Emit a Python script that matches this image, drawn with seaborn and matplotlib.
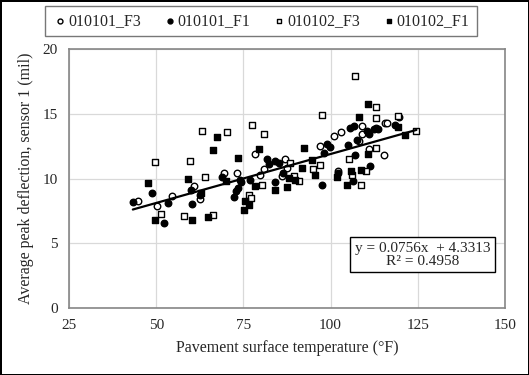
import numpy as np
import pandas as pd
import matplotlib
matplotlib.use('Agg')
import matplotlib.pyplot as plt
import seaborn as sns

# open circles
f3_0101_x = [44.7, 50.2, 54.5, 60.9, 62.6, 69.3, 73.2, 78.2, 79.9, 81.0, 86.8, 86.1, 87.4,
             96.9, 101.0, 102.9, 102.2, 108.1, 109.1, 109.1, 113.0, 111.0, 115.3, 115.5, 116.1, 119.7]
f3_0101_y = [8.27, 7.85, 8.63, 9.4, 8.45, 10.39, 10.39, 11.9, 10.3, 10.7, 11.5, 10.18, 10.83,
             12.5, 13.3, 13.6, 10.57, 12.9, 13.4, 14.05, 13.93, 12.25, 11.78, 14.3, 14.3, 14.75]

# filled circles
f1_0101_x = [43.3, 48.8, 52.1, 53.5, 59.9, 60.4, 62.6, 68.9, 72.2, 72.8, 73.5, 74.3, 74.1, 77.0,
             81.8, 82.3, 84.2, 85.1, 84.2, 86.4, 97.4, 98.2, 99.0, 99.8, 102.1, 104.9, 105.5,
             106.6, 106.9, 106.3, 107.7, 110.5, 111.1, 112.5, 113.6, 111.4, 118.5]
f1_0101_y = [8.16, 8.9, 6.56, 8.11, 9.15, 8.03, 8.76, 10.13, 8.6, 9.0, 9.3, 9.7, 9.92, 9.87,
             11.47, 11.1, 11.34, 11.2, 9.71, 10.44, 9.48, 12.0, 12.7, 12.45, 10.44, 12.6, 13.9,
             14.05, 11.78, 9.77, 13.0, 13.67, 13.4, 13.8, 13.8, 11.0, 14.1]

# open squares
f3_0102_x = [49.6, 51.4, 58.0, 59.6, 64.1, 63.1, 70.3, 66.2, 77.5, 81.0, 76.5, 77.2, 80.4, 88.5,
             89.4, 90.9, 94.9, 97.1, 97.6, 105.2, 106.1, 106.9, 108.6, 110.2, 113.0, 113.0, 113.1,
             119.2, 124.6]
f3_0102_y = [11.3, 7.29, 7.13, 11.34, 10.1, 13.67, 13.6, 7.2, 14.1, 13.4, 8.76, 8.5, 9.53, 11.2,
             10.18, 9.79, 10.75, 11.06, 14.9, 11.53, 10.3, 17.88, 9.48, 10.57, 15.53, 14.65, 12.38,
             14.8, 13.67]

# filled squares
f1_0102_x = [47.7, 49.7, 59.0, 60.4, 62.8, 64.8, 67.4, 66.3, 70.1, 73.5, 75.1, 75.6, 76.5, 78.4,
             79.4, 84.2, 87.4, 88.0, 89.9, 91.9, 92.3, 94.8, 95.4, 101.9, 104.8, 105.8, 108.2,
             108.6, 110.7, 110.8, 119.4, 121.3]
f1_0102_y = [9.67, 6.82, 10.0, 6.77, 8.9, 7.0, 13.2, 12.17, 9.84, 11.6, 7.6, 8.24, 7.98, 9.4,
             12.25, 9.15, 9.36, 10.05, 9.92, 10.83, 12.38, 11.4, 10.26, 10.13, 9.5, 10.57, 14.78,
             10.64, 15.74, 11.86, 14.0, 13.33]

slope, intercept, r2 = 0.0756, 4.3313, 0.4958

series = [
    ('010101_F3', f3_0101_x, f3_0101_y, 'o', 'white'),
    ('010101_F1', f1_0101_x, f1_0101_y, 'o', 'black'),
    ('010102_F3', f3_0102_x, f3_0102_y, 's', 'white'),
    ('010102_F1', f1_0102_x, f1_0102_y, 's', 'black'),
]

sns.set_style('white')
plt.rcParams['font.family'] = ['Liberation Serif', 'DejaVu Serif']

fig = plt.figure(figsize=(5.29, 3.75), dpi=100, edgecolor='black', linewidth=2)
ax = fig.add_axes([69 / 529, 1 - 308 / 375, (505 - 69) / 529, (308 - 49) / 375])

for name, xs, ys, mk, fc in series:
    df = pd.DataFrame({'x': xs, 'y': ys})
    sns.scatterplot(data=df, x='x', y='y', marker=mk, s=22, facecolor=fc,
                    edgecolor='black', linewidth=1, ax=ax, label=name, zorder=3)

# trend line over the range of the data
all_x = np.concatenate([s[1] for s in series])
xl = np.array([all_x.min(), all_x.max()])
ax.plot(xl, slope * xl + intercept, color='black', lw=1.6, zorder=4)

ax.set_xlim(25, 150)
ax.set_ylim(0, 20)
ax.set_xticks(range(25, 151, 25))
ax.set_yticks(range(0, 21, 5))
ax.grid(True, color='#d9d9d9', lw=0.9)
ax.set_axisbelow(True)
for sp in ax.spines.values():
    sp.set_color('#868686')
    sp.set_linewidth(1.2)
ax.tick_params(length=0, labelsize=11, pad=8)
ax.set_xlabel('Pavement surface temperature (°F)', fontsize=11.5, labelpad=6)
ax.set_ylabel('Average peak deflection, sensor 1 (mil)', fontsize=11.5, labelpad=6)

ax.text(0.811, 0.205, f'y = {slope}x  + {intercept}\nR² = {r2}', transform=ax.transAxes,
        ha='center', va='center', fontsize=11, linespacing=1.0, zorder=5,
        bbox=dict(boxstyle='square,pad=0.3', fc='white', ec='black', lw=1))

handles, labels = ax.get_legend_handles_labels()
ax.legend_.remove()
leg = fig.legend(handles, labels, ncol=4, loc='center', bbox_to_anchor=(261 / 529, 1 - 21 / 375),
                 frameon=True, fancybox=False, edgecolor='#555555', fontsize=11.5,
                 handletextpad=0.0, columnspacing=1.3, markerscale=0.75,
                 borderpad=0.45, handlelength=1.0)
leg.get_frame().set_linewidth(1)

fig.savefig('out.png', dpi=100, edgecolor=fig.get_edgecolor())
